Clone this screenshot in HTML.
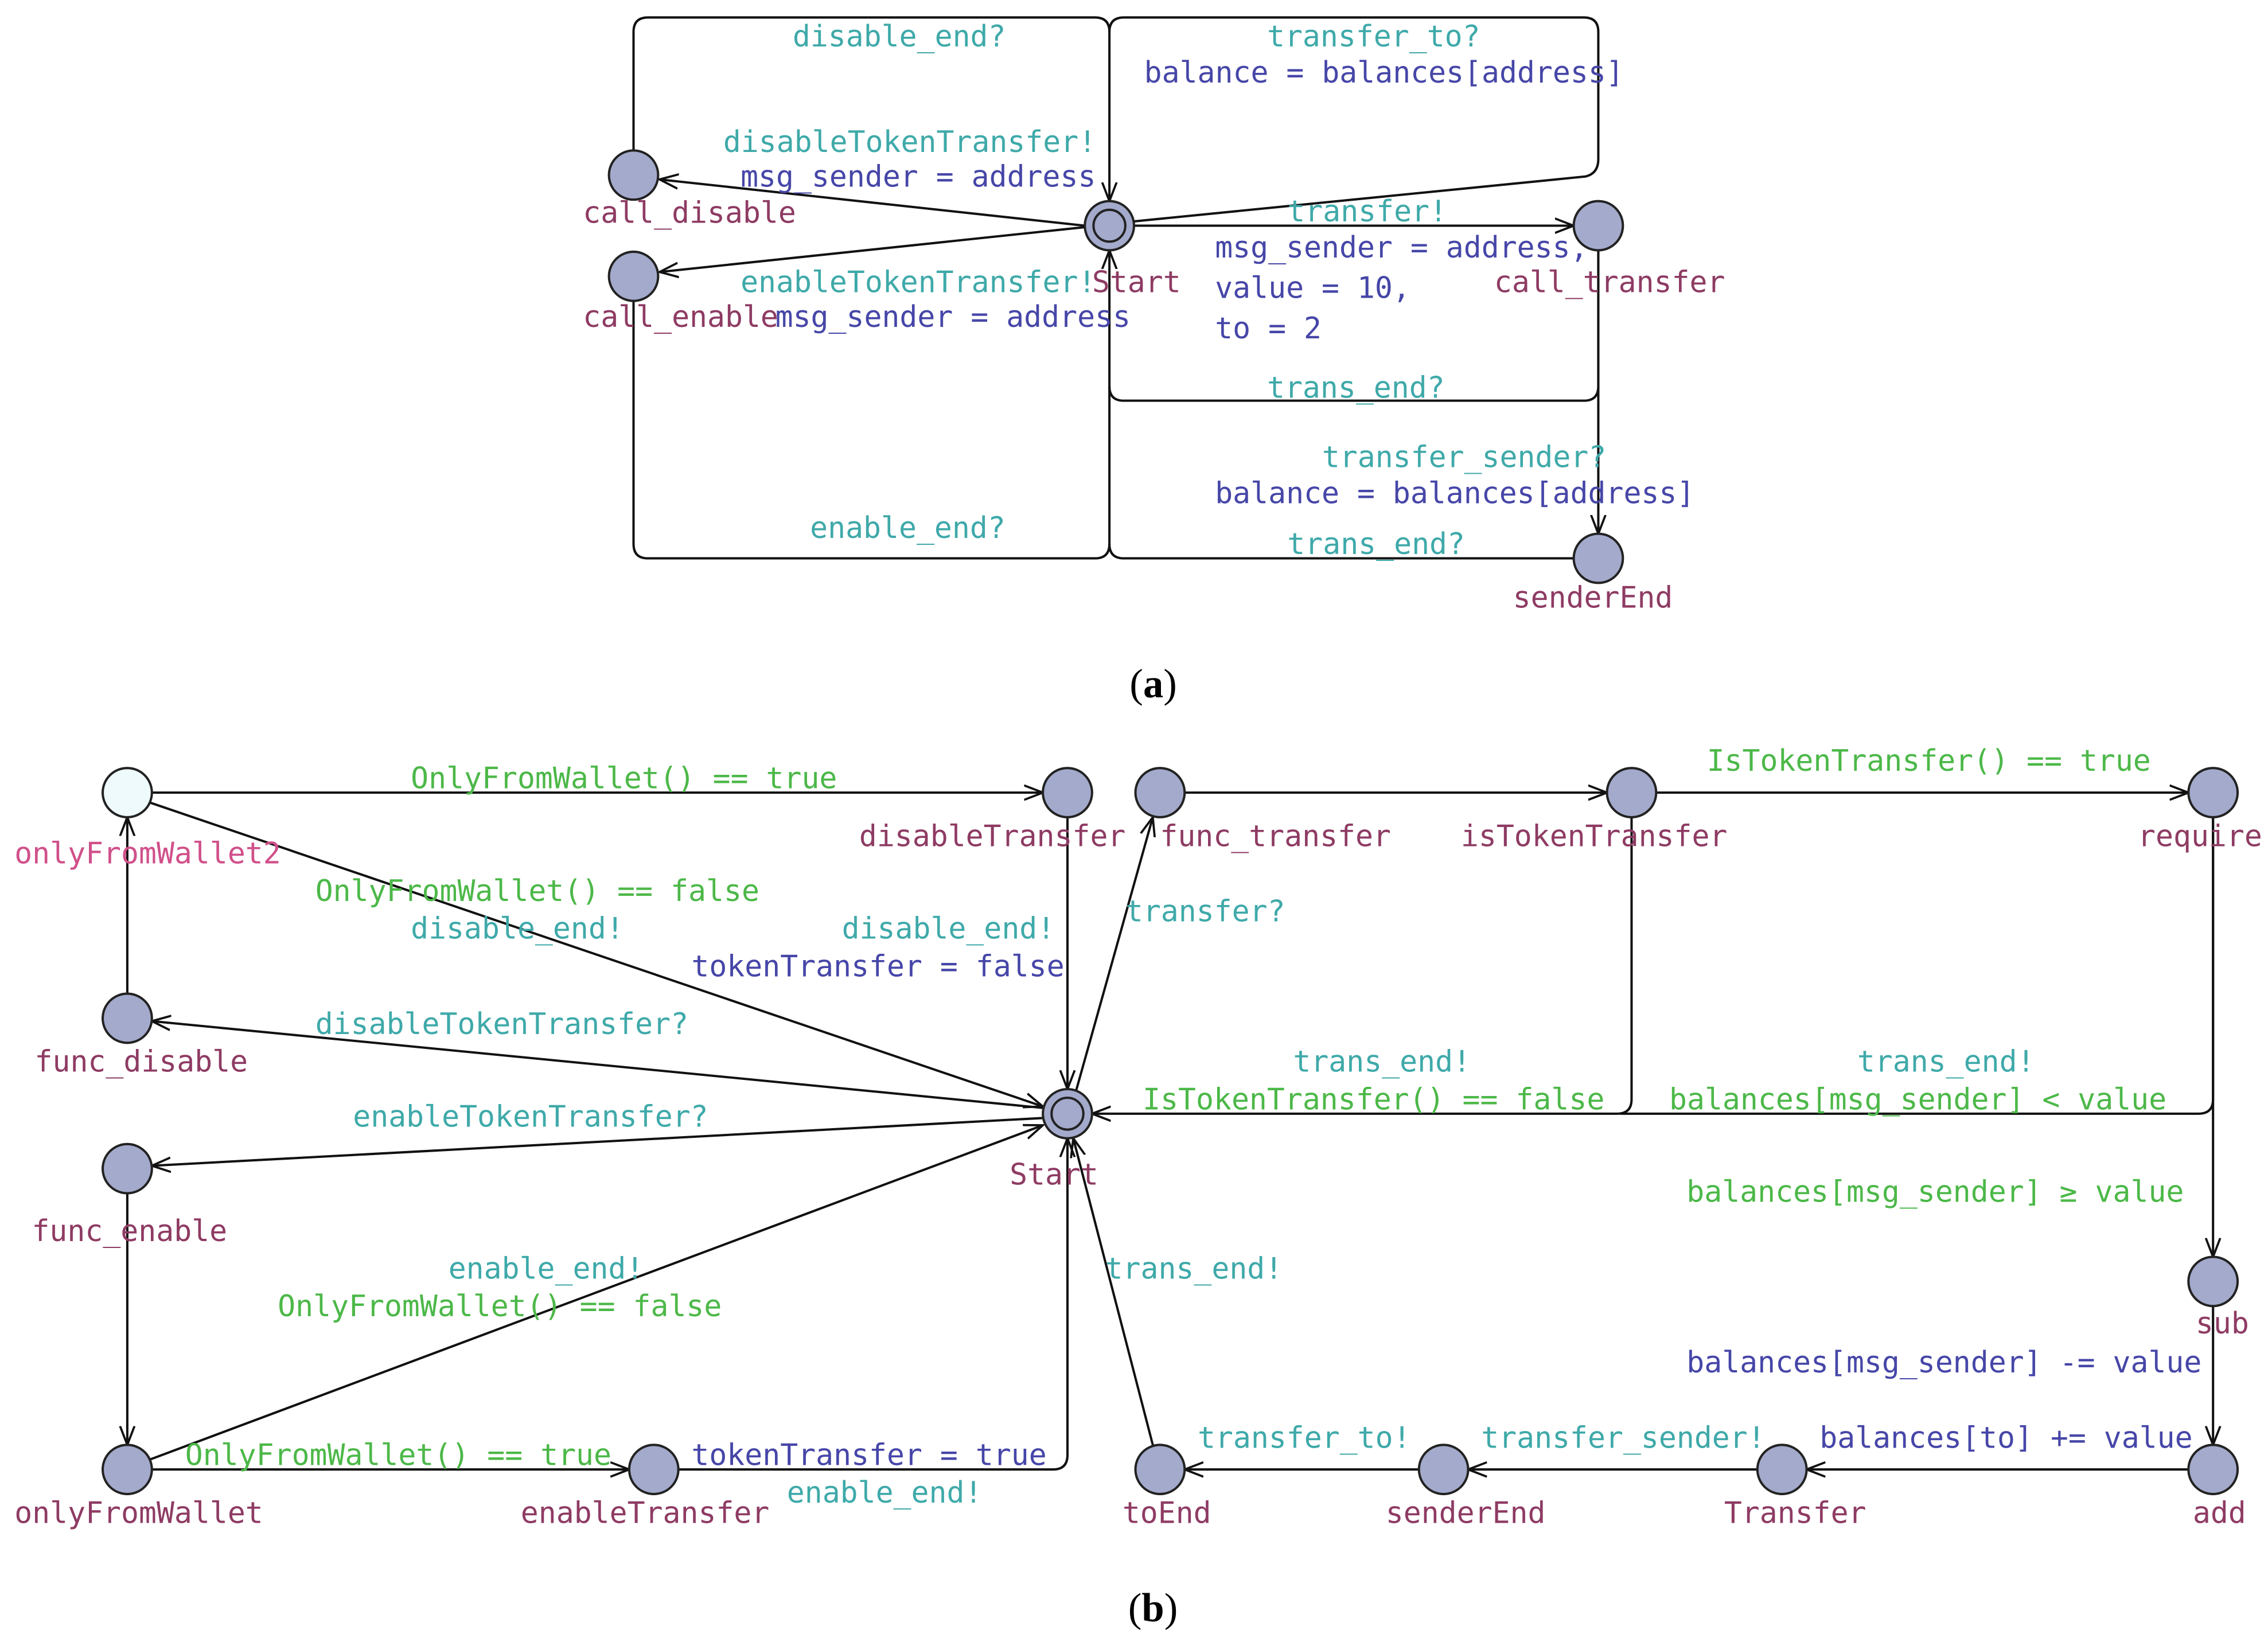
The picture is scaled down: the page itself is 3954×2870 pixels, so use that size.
<!DOCTYPE html>
<html><head><meta charset="utf-8"><style>
html,body{margin:0;padding:0;background:#fff}
svg{display:block}
text{font-family:"DejaVu Sans Mono","Liberation Mono",monospace;font-size:20.4px}
.t{fill:#3fa9a9}.b{fill:#4646a8}.m{fill:#8e3b63}.g{fill:#4cb848}.p{fill:#d0508a}
.e{fill:none;stroke:#111;stroke-width:1.6}
.n{fill:#a3aacb;stroke:#222;stroke-width:1.6}
.cap{font-family:"Liberation Serif",serif;font-size:28px;fill:#000}
</style></head><body>
<svg width="3954" height="2870" viewBox="0 0 1568 1138" xmlns="http://www.w3.org/2000/svg">
<defs><marker id="a" markerWidth="14" markerHeight="12" refX="13" refY="6" orient="auto" markerUnits="userSpaceOnUse"><path d="M0,1 L13,6 L0,11" fill="none" stroke="#111" stroke-width="1.5"/></marker></defs>

<!-- (a) edges -->
<line class="e" x1="750" y1="156" x2="456" y2="124" marker-end="url(#a)"/>
<line class="e" x1="750" y1="157" x2="456" y2="188" marker-end="url(#a)"/>
<path class="e" d="M438,104 V22 Q438,12 448,12 H757 Q767,12 767,22 V139" marker-end="url(#a)"/>
<path class="e" d="M438,208 V376 Q438,386 448,386 H757 Q767,386 767,376 V173" marker-end="url(#a)"/>
<line class="e" x1="784" y1="156" x2="1088" y2="156" marker-end="url(#a)"/>
<path class="e" d="M784,153 L1096,122 Q1105,120 1105,110 V22 Q1105,12 1095,12 H777 Q767,12 767,22"/>
<path class="e" d="M1105,173 V267 Q1105,277 1095,277 H777 Q767,277 767,267"/>
<line class="e" x1="1105" y1="173" x2="1105" y2="369" marker-end="url(#a)"/>
<path class="e" d="M1088,386 H777 Q767,386 767,376"/>
<circle class="n" cx="767" cy="156" r="17"/><circle class="n" cx="767" cy="156" r="11"/>
<circle class="n" cx="438" cy="121" r="17"/><circle class="n" cx="438" cy="191" r="17"/>
<circle class="n" cx="1105" cy="156" r="17"/><circle class="n" cx="1105" cy="386" r="17"/>
<text x="548" y="32" class="t">disable_end?</text>
<text x="876" y="32" class="t">transfer_to?</text>
<text x="791" y="57" class="b">balance = balances[address]</text>
<text x="500" y="105" class="t">disableTokenTransfer!</text>
<text x="512" y="129" class="b">msg_sender = address</text>
<text x="403" y="154" class="m">call_disable</text>
<text x="890" y="153" class="t">transfer!</text>
<text x="840" y="178" class="b">msg_sender = address,</text>
<text x="512" y="202" class="t">enableTokenTransfer!</text>
<text x="755" y="202" class="m">Start</text>
<text x="1033" y="202" class="m">call_transfer</text>
<text x="840" y="206" class="b">value = 10,</text>
<text x="403" y="226" class="m">call_enable</text>
<text x="536" y="226" class="b">msg_sender = address</text>
<text x="840" y="234" class="b">to = 2</text>
<text x="876" y="275" class="t">trans_end?</text>
<text x="914" y="323" class="t">transfer_sender?</text>
<text x="840" y="348" class="b">balance = balances[address]</text>
<text x="560" y="372" class="t">enable_end?</text>
<text x="890" y="383" class="t">trans_end?</text>
<text x="1046" y="420" class="m">senderEnd</text>
<text x="781" y="482" class="cap">(<tspan font-weight="bold">a</tspan>)</text>

<!-- (b) edges -->
<line class="e" x1="105" y1="548" x2="721" y2="548" marker-end="url(#a)"/>
<line class="e" x1="104" y1="555" x2="721" y2="765" marker-end="url(#a)"/>
<line class="e" x1="738" y1="565" x2="738" y2="753" marker-end="url(#a)"/>
<line class="e" x1="88" y1="687" x2="88" y2="565" marker-end="url(#a)"/>
<line class="e" x1="721" y1="766" x2="105" y2="706" marker-end="url(#a)"/>
<line class="e" x1="721" y1="773" x2="105" y2="806" marker-end="url(#a)"/>
<line class="e" x1="88" y1="825" x2="88" y2="999" marker-end="url(#a)"/>
<line class="e" x1="104" y1="1009" x2="721" y2="778" marker-end="url(#a)"/>
<line class="e" x1="105" y1="1016" x2="435" y2="1016" marker-end="url(#a)"/>
<path class="e" d="M469,1016 H728 Q738,1016 738,1006 V787" marker-end="url(#a)"/>
<line class="e" x1="744" y1="754" x2="797" y2="565" marker-end="url(#a)"/>
<line class="e" x1="819" y1="548" x2="1111" y2="548" marker-end="url(#a)"/>
<line class="e" x1="1145" y1="548" x2="1513" y2="548" marker-end="url(#a)"/>
<path class="e" d="M1128,565 V760 Q1128,770 1118,770 H755" marker-end="url(#a)"/>
<path class="e" d="M1530,565 V760 Q1530,770 1520,770 H1120"/>
<line class="e" x1="1530" y1="565" x2="1530" y2="869" marker-end="url(#a)"/>
<line class="e" x1="1530" y1="903" x2="1530" y2="999" marker-end="url(#a)"/>
<line class="e" x1="1513" y1="1016" x2="1249" y2="1016" marker-end="url(#a)"/>
<line class="e" x1="1215" y1="1016" x2="1015" y2="1016" marker-end="url(#a)"/>
<line class="e" x1="981" y1="1016" x2="819" y2="1016" marker-end="url(#a)"/>
<line class="e" x1="797" y1="999" x2="742" y2="787" marker-end="url(#a)"/>

<circle cx="88" cy="548" r="17" fill="#eefafc" stroke="#222" stroke-width="1.6"/>
<circle class="n" cx="738" cy="548" r="17"/><circle class="n" cx="802" cy="548" r="17"/>
<circle class="n" cx="1128" cy="548" r="17"/><circle class="n" cx="1530" cy="548" r="17"/>
<circle class="n" cx="88" cy="704" r="17"/><circle class="n" cx="88" cy="808" r="17"/>
<circle class="n" cx="738" cy="770" r="17"/><circle class="n" cx="738" cy="770" r="11"/>
<circle class="n" cx="1530" cy="886" r="17"/>
<circle class="n" cx="88" cy="1016" r="17"/><circle class="n" cx="452" cy="1016" r="17"/>
<circle class="n" cx="802" cy="1016" r="17"/><circle class="n" cx="998" cy="1016" r="17"/>
<circle class="n" cx="1232" cy="1016" r="17"/><circle class="n" cx="1530" cy="1016" r="17"/>

<text x="284" y="545" class="g">OnlyFromWallet() == true</text>
<text x="1180" y="533" class="g">IsTokenTransfer() == true</text>
<text x="10" y="597" class="p">onlyFromWallet2</text>
<text x="594" y="585" class="m">disableTransfer</text>
<text x="802" y="585" class="m">func_transfer</text>
<text x="1010" y="585" class="m">isTokenTransfer</text>
<text x="1478" y="585" class="m">require</text>
<text x="218" y="623" class="g">OnlyFromWallet() == false</text>
<text x="284" y="649" class="t">disable_end!</text>
<text x="582" y="649" class="t">disable_end!</text>
<text x="778" y="637" class="t">transfer?</text>
<text x="478" y="675" class="b">tokenTransfer = false</text>
<text x="218" y="715" class="t">disableTokenTransfer?</text>
<text x="24" y="741" class="m">func_disable</text>
<text x="894" y="741" class="t">trans_end!</text>
<text x="1284" y="741" class="t">trans_end!</text>
<text x="790" y="767" class="g">IsTokenTransfer() == false</text>
<text x="1154" y="767" class="g">balances[msg_sender] &lt; value</text>
<text x="244" y="779" class="t">enableTokenTransfer?</text>
<text x="698" y="819" class="m">Start</text>
<text x="1166" y="831" class="g">balances[msg_sender] ≥ value</text>
<text x="22" y="858" class="m">func_enable</text>
<text x="310" y="884" class="t">enable_end!</text>
<text x="764" y="884" class="t">trans_end!</text>
<text x="192" y="910" class="g">OnlyFromWallet() == false</text>
<text x="1518" y="922" class="m">sub</text>
<text x="1166" y="949" class="b">balances[msg_sender] -= value</text>
<text x="828" y="1001" class="t">transfer_to!</text>
<text x="1024" y="1001" class="t">transfer_sender!</text>
<text x="1258" y="1001" class="b">balances[to] += value</text>
<text x="128" y="1013" class="g">OnlyFromWallet() == true</text>
<text x="478" y="1013" class="b">tokenTransfer = true</text>
<text x="544" y="1039" class="t">enable_end!</text>
<text x="10" y="1053" class="m">onlyFromWallet</text>
<text x="360" y="1053" class="m">enableTransfer</text>
<text x="776" y="1053" class="m">toEnd</text>
<text x="958" y="1053" class="m">senderEnd</text>
<text x="1192" y="1053" class="m">Transfer</text>
<text x="1516" y="1053" class="m">add</text>
<text x="780" y="1121" class="cap">(<tspan font-weight="bold">b</tspan>)</text>
</svg>
</body></html>
